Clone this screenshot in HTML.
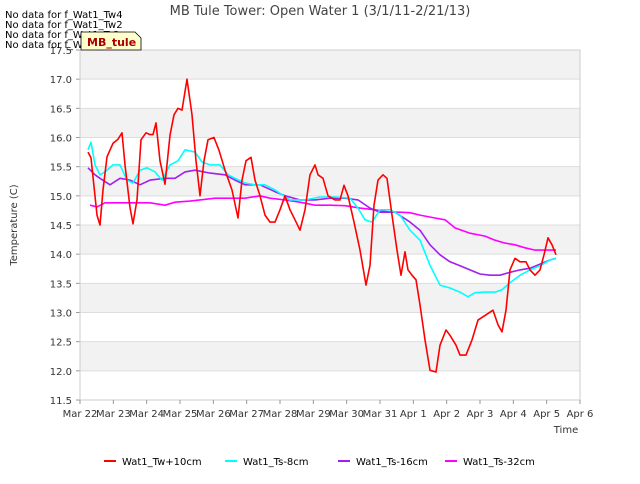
<!DOCTYPE html>
<html><head><meta charset="utf-8"><style>
body{margin:0;background:#fff;font-family:"DejaVu Sans",sans-serif}
svg text{font-family:"DejaVu Sans","Liberation Sans",sans-serif}
</style></head><body>
<svg id="c" width="640" height="480" xmlns="http://www.w3.org/2000/svg">
<text x="320" y="15" text-anchor="middle" font-size="13" fill="#444">MB Tule Tower: Open Water 1 (3/1/11-2/21/13)</text>
<g id="plot"></g>
<text transform="translate(17,225) rotate(-90)" text-anchor="middle" font-size="10" fill="#333">Temperature (C)</text>
<text x="566" y="433" text-anchor="middle" font-size="10" fill="#333">Time</text>
<g font-size="10" fill="#000">
<text x="5" y="18">No data for f_Wat1_Tw4</text>
<text x="5" y="28">No data for f_Wat1_Tw2</text>
<text x="5" y="38">No data for f_Wat1_Ts2</text>
<text x="5" y="48">No data for f_Wat1_Ts4</text>
</g>
<g>
<path d="M81,32 L135,32 L141,38 L141,50 L81,50 Z" fill="#ffffcc" stroke="#000" stroke-width="0.8"/>
<text x="87" y="46" font-size="11" font-weight="bold" fill="#aa0000">MB_tule</text>
</g>
<g id="legend"></g>
</svg>
<script>
const yTicks=[11.5,12.0,12.5,13.0,13.5,14.0,14.5,15.0,15.5,16.0,16.5,17.0,17.5];
const xTickLabels=["Mar 22","Mar 23","Mar 24","Mar 25","Mar 26","Mar 27","Mar 28","Mar 29","Mar 30","Mar 31","Apr 1","Apr 2","Apr 3","Apr 4","Apr 5","Apr 6"];
const seriesNames=["Wat1_Tw+10cm","Wat1_Ts-8cm","Wat1_Ts-16cm","Wat1_Ts-32cm"];
const seriesColors=["#ff0000","#00ffff","#a020f0","#ff00ff"];
const redT=[0.24,0.33,0.51,0.6,0.69,0.81,0.99,1.14,1.26,1.35,1.5,1.59,1.71,1.83,1.98,2.1,2.19,2.28,2.4,2.55,2.7,2.82,2.94,3.06,3.21,3.36,3.48,3.6,3.72,3.84,4.02,4.17,4.35,4.56,4.74,4.86,4.98,5.13,5.25,5.4,5.55,5.7,5.85,6.0,6.15,6.3,6.45,6.6,6.75,6.9,7.05,7.14,7.29,7.44,7.65,7.8,7.92,8.04,8.22,8.4,8.58,8.7,8.82,8.94,9.09,9.21,9.36,9.51,9.63,9.75,9.84,9.96,10.08,10.2,10.35,10.5,10.68,10.8,10.98,11.1,11.28,11.4,11.58,11.76,11.94,12.18,12.39,12.54,12.66,12.78,12.9,13.05,13.2,13.38,13.5,13.65,13.8,13.92,14.04,14.16,14.28];
const redV=[15.75,15.65,14.67,14.5,15.1,15.67,15.9,15.97,16.08,15.53,14.8,14.52,14.93,15.96,16.08,16.05,16.05,16.25,15.6,15.2,16.04,16.39,16.5,16.47,17.0,16.39,15.6,15.0,15.6,15.96,16.0,15.78,15.44,15.1,14.62,15.27,15.6,15.66,15.27,15.0,14.67,14.55,14.55,14.76,15.0,14.76,14.59,14.41,14.76,15.36,15.53,15.36,15.3,15.0,14.93,14.93,15.18,15.0,14.55,14.07,13.47,13.81,14.84,15.27,15.36,15.3,14.67,14.07,13.64,14.04,13.73,13.64,13.56,13.13,12.53,12.01,11.98,12.44,12.7,12.61,12.44,12.27,12.27,12.53,12.87,12.96,13.04,12.79,12.67,13.04,13.73,13.93,13.87,13.87,13.73,13.64,13.73,13.99,14.28,14.16,13.99];
const cyanT=[0.24,0.33,0.45,0.6,0.75,0.99,1.2,1.41,1.59,1.8,2.01,2.25,2.46,2.7,2.94,3.15,3.45,3.66,3.9,4.2,4.44,4.65,4.95,5.25,5.55,5.85,6.3,6.75,7.2,7.65,8.1,8.34,8.55,8.76,9.0,9.3,9.6,9.9,10.2,10.5,10.8,11.1,11.4,11.64,11.85,12.15,12.45,12.66,12.9,13.2,13.5,13.8,14.1,14.28];
const cyanV=[15.79,15.92,15.53,15.36,15.41,15.53,15.53,15.27,15.22,15.44,15.48,15.41,15.27,15.53,15.6,15.79,15.75,15.58,15.53,15.53,15.36,15.3,15.22,15.19,15.19,15.1,14.93,14.93,14.98,14.98,14.96,14.79,14.59,14.55,14.76,14.76,14.67,14.41,14.24,13.81,13.47,13.42,13.35,13.27,13.34,13.35,13.35,13.39,13.51,13.64,13.73,13.8,13.9,13.93];
const purpleT=[0.24,0.45,0.6,0.9,1.2,1.5,1.8,2.1,2.55,2.85,3.15,3.45,3.9,4.35,4.65,4.95,5.4,5.85,6.15,6.6,7.05,7.5,7.95,8.34,8.7,9.0,9.45,9.9,10.2,10.5,10.8,11.1,11.4,11.7,12.0,12.3,12.6,12.9,13.2,13.5,13.8,14.1,14.28];
const purpleV=[15.48,15.36,15.3,15.19,15.3,15.27,15.19,15.27,15.3,15.3,15.41,15.44,15.39,15.36,15.27,15.19,15.19,15.07,15.0,14.93,14.93,14.96,14.96,14.93,14.79,14.72,14.72,14.55,14.41,14.16,13.99,13.87,13.8,13.73,13.66,13.64,13.64,13.69,13.73,13.76,13.83,13.9,13.93];
const magentaT=[0.3,0.51,0.75,1.05,1.35,1.65,2.1,2.55,2.85,3.3,3.6,4.05,4.5,4.95,5.4,5.7,6.15,6.6,7.05,7.5,7.95,8.4,8.85,9.3,9.6,9.9,10.2,10.65,10.95,11.25,11.7,12.15,12.45,12.75,13.05,13.35,13.65,13.95,14.28];
const magentaV=[14.84,14.81,14.88,14.88,14.88,14.88,14.88,14.84,14.89,14.91,14.93,14.96,14.96,14.96,15.0,14.96,14.93,14.89,14.84,14.84,14.83,14.79,14.76,14.72,14.72,14.71,14.67,14.62,14.59,14.45,14.36,14.31,14.24,14.19,14.16,14.11,14.07,14.07,14.07];

const NS="http://www.w3.org/2000/svg";
const L=80,R=580,T=50,B=400,ymin=11.5,ymax=17.5,xmin=0,xmax=15;
const xs=t=>L+(t-xmin)/(xmax-xmin)*(R-L);
const ys=v=>B-(v-ymin)/(ymax-ymin)*(B-T);
const plot=document.getElementById('plot');
function mk(tag,attrs,parent){const e=document.createElementNS(NS,tag);for(const k in attrs)e.setAttribute(k,attrs[k]);parent.appendChild(e);return e;}
for(let i=0;i<yTicks.length-1;i++){
  if(i%2===1){
    const r=mk('rect',{x:L,y:ys(yTicks[i+1]),width:R-L,height:ys(yTicks[i])-ys(yTicks[i+1]),fill:'#f2f2f2'},plot);
    
    
  }
}
yTicks.forEach(v=>{
  const g=mk('line',{x1:L,x2:R,y1:ys(v),y2:ys(v),stroke:'#dddddd','stroke-width':1},plot);
  
  
  const t=mk('text',{x:L-8,y:ys(v)+4,'text-anchor':'end','font-size':10,fill:'#333'},plot);
  t.textContent=v.toFixed(1);
  
  
  mk('line',{x1:L-4,x2:L,y1:ys(v),y2:ys(v),stroke:'#999'},plot);
});
const fr=mk('rect',{x:L,y:T,width:R-L,height:B-T,fill:'none',stroke:'#cccccc'},plot);


xTickLabels.forEach((s,i)=>{
  mk('line',{x1:xs(i),x2:xs(i),y1:B,y2:B+4,stroke:'#999'},plot);
  const t=mk('text',{x:xs(i),y:B+17,'text-anchor':'middle','font-size':10,fill:'#333'},plot);
  t.textContent=s;
  
  
});
const series=[[redT,redV],[cyanT,cyanV],[purpleT,purpleV],[magentaT,magentaV]];
const order=[3,2,1,0];
order.forEach(i=>{
  const [tt,vv]=series[i];
  const d=tt.map((t,j)=>(j?'L':'M')+xs(t).toFixed(1)+','+ys(vv[j]).toFixed(1)).join(' ');
  const p=mk('path',{d:d,fill:'none',stroke:seriesColors[i],'stroke-width':1.6,'stroke-linejoin':'round'},plot);
  
  
});
const leg=document.getElementById('legend');
const legX=[104,225,338,445];
seriesNames.forEach((n,i)=>{
  const g=mk('g',{},leg);
  
  
  mk('line',{x1:legX[i],x2:legX[i]+12,y1:461,y2:461,stroke:seriesColors[i],'stroke-width':2},g);
  const t=mk('text',{x:legX[i]+18,y:465,'font-size':10,fill:'#000'},g);
  t.textContent=n;
});
</script>
</body></html>
